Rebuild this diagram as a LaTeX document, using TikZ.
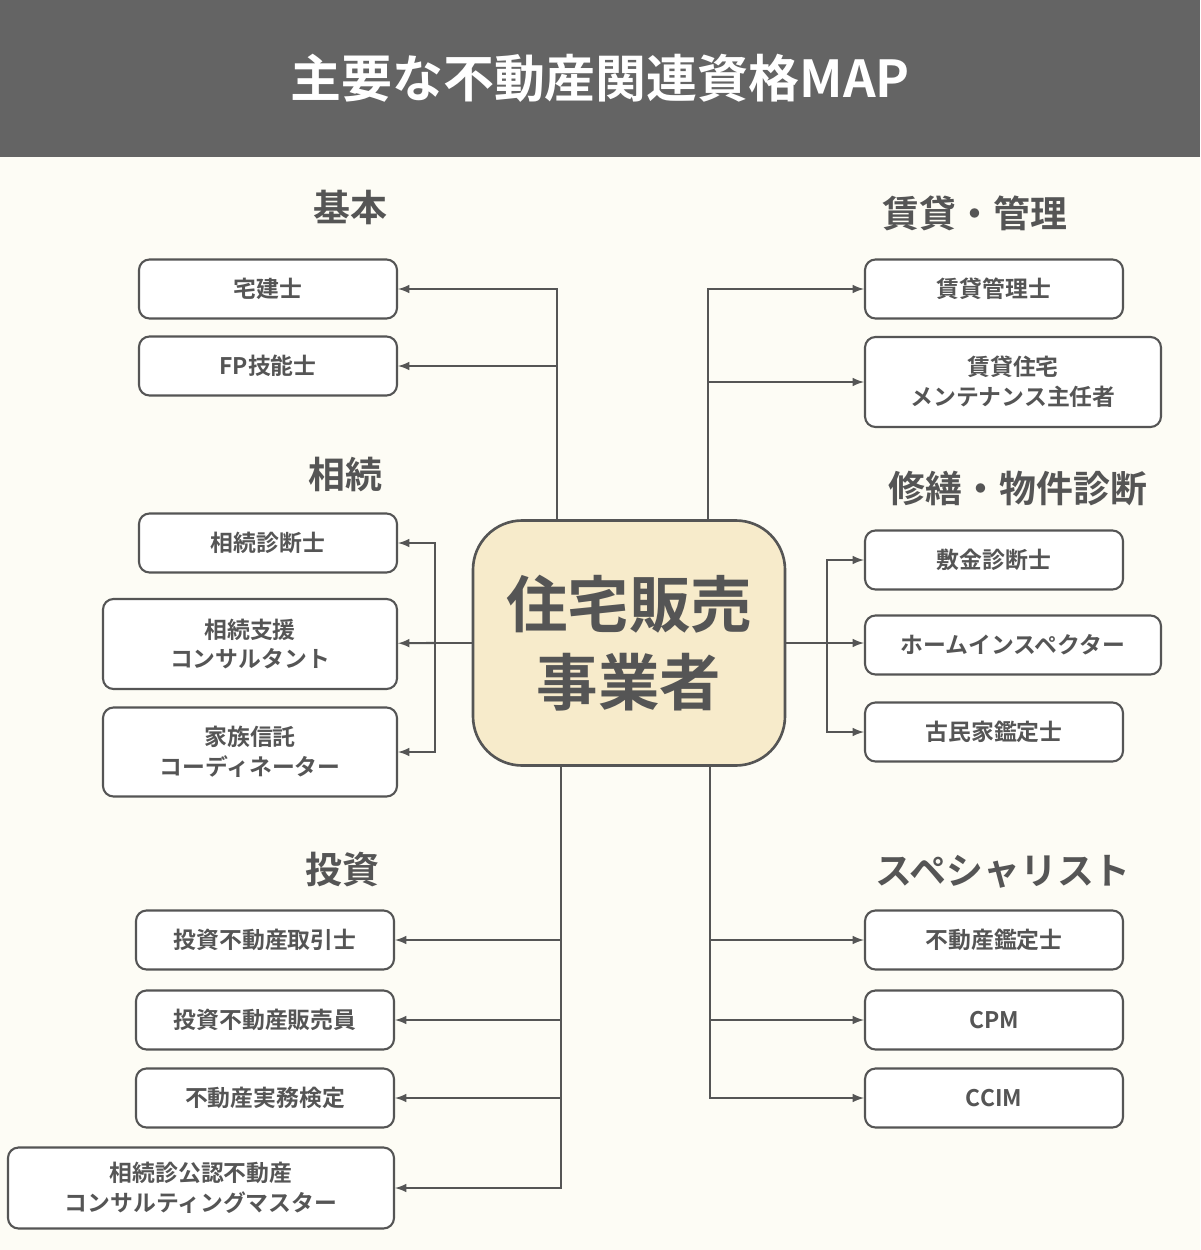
\documentclass[tikz,border=0pt]{standalone}
\usepackage{fontspec}
\setmainfont{Noto Sans CJK JP}[BoldFont={Noto Sans CJK JP Bold}]
\usetikzlibrary{arrows}
\definecolor{bgc}{HTML}{FDFCF5}
\definecolor{barc}{HTML}{646464}
\definecolor{linec}{HTML}{555555}
\definecolor{hubc}{HTML}{F7EBCB}
\tikzset{
  qbox/.style={draw=linec,line width=1.2pt,rounded corners=6pt,fill=white,text=linec,font=\bfseries\fontsize{13}{17}\selectfont,align=center,inner sep=0pt},
  cat/.style={text=linec,font=\bfseries\fontsize{21}{25}\selectfont},
  arr/.style={draw=linec,line width=1.2pt,-latex},
  ln/.style={draw=linec,line width=1.2pt}
}
\begin{document}
\begin{tikzpicture}[x=0.02cm,y=-0.02cm]

\fill[bgc] (0,0) rectangle (1200,1250);
\useasboundingbox (0,0) rectangle (1200,1250);
\fill[barc] (0,0) rectangle (1200,157);
\node (title) at (600,78) [text=white,font=\bfseries\fontsize{29}{33}\selectfont] {主要な不動産関連資格MAP};

% hub
\node (hub) at (629,643) [draw=linec,line width=1.5pt,rounded corners=28pt,fill=hubc,text=linec,minimum width=312*0.02cm,minimum height=245*0.02cm,align=center,font=\bfseries\fontsize{35}{44}\selectfont] {住宅販売\\事業者};

% headings
\node (hkihon) at (350,207) [cat] {基本};
\node (hsozoku) at (345,474) [cat] {相続};
\node (htoshi) at (342,870) [cat] {投資};
\node (hchintai) at (975,213) [cat] {賃貸・管理};
\node (hshuzen) at (1018,488) [cat] {修繕・物件診断};
\node (hspec) at (1003,872) [cat] {スペシャリスト};

% left boxes
\node (takken) at (268,289) [qbox,minimum width=258*0.02cm,minimum height=59*0.02cm] {宅建士};
\node (fp) at (268,366) [qbox,minimum width=258*0.02cm,minimum height=59*0.02cm] {FP技能士};
\node (sdan) at (268,543) [qbox,minimum width=258*0.02cm,minimum height=59*0.02cm] {相続診断士};
\node (sshien) at (250,644) [qbox,minimum width=294*0.02cm,minimum height=90*0.02cm] {相続支援\\コンサルタント};
\node (kazoku) at (250,752) [qbox,minimum width=294*0.02cm,minimum height=89*0.02cm] {家族信託\\コーディネーター};
\node (ttori) at (265,940) [qbox,minimum width=258*0.02cm,minimum height=59*0.02cm] {投資不動産取引士};
\node (thanbai) at (265,1020) [qbox,minimum width=258*0.02cm,minimum height=59*0.02cm] {投資不動産販売員};
\node (jitsumu) at (265,1098) [qbox,minimum width=258*0.02cm,minimum height=59*0.02cm] {不動産実務検定};
\node (koonin) at (201,1188) [qbox,minimum width=386*0.02cm,minimum height=81*0.02cm] {相続診公認不動産\\コンサルティングマスター};

% right boxes
\node (kanri) at (994,289) [qbox,minimum width=258*0.02cm,minimum height=59*0.02cm] {賃貸管理士};
\node (maint) at (1013,382) [qbox,minimum width=296*0.02cm,minimum height=90*0.02cm] {賃貸住宅\\メンテナンス主任者};
\node (shikikin) at (994,560) [qbox,minimum width=258*0.02cm,minimum height=59*0.02cm] {敷金診断士};
\node (home) at (1013,645) [qbox,minimum width=296*0.02cm,minimum height=59*0.02cm] {ホームインスペクター};
\node (kominka) at (994,732) [qbox,minimum width=258*0.02cm,minimum height=59*0.02cm] {古民家鑑定士};
\node (kantei) at (994,940) [qbox,minimum width=258*0.02cm,minimum height=59*0.02cm] {不動産鑑定士};
\node (cpm) at (994,1020) [qbox,minimum width=258*0.02cm,minimum height=59*0.02cm] {CPM};
\node (ccim) at (994,1098) [qbox,minimum width=258*0.02cm,minimum height=59*0.02cm] {CCIM};

% trunks
\coordinate (tl) at (557,521);
\coordinate (tr) at (708,521);
\coordinate (ml) at (435,643);
\coordinate (mr) at (827,643);
\coordinate (bl) at (561,766);
\coordinate (br) at (710,766);

\draw[arr] (tl) |- (takken);
\draw[arr] (tl |- fp) -- (fp);
\draw[arr] (tr) |- (kanri);
\draw[arr] (tr |- maint) -- (maint);

\draw[ln] (hub.west |- ml) -- (ml);
\draw[arr] (ml) |- (sdan);
\draw[arr] (ml) |- (kazoku);
\draw[arr] (ml) -- (sshien);

\draw[ln] (hub.east |- mr) -- (mr);
\draw[arr] (mr) |- (shikikin);
\draw[arr] (mr) |- (kominka);
\draw[arr] (mr) -- (mr -| home.west);

\draw[arr] (bl) |- (koonin);
\draw[arr] (bl |- ttori) -- (ttori);
\draw[arr] (bl |- thanbai) -- (thanbai);
\draw[arr] (bl |- jitsumu) -- (jitsumu);

\draw[arr] (br) |- (ccim);
\draw[arr] (br |- kantei) -- (kantei);
\draw[arr] (br |- cpm) -- (cpm);

\end{tikzpicture}
\end{document}
